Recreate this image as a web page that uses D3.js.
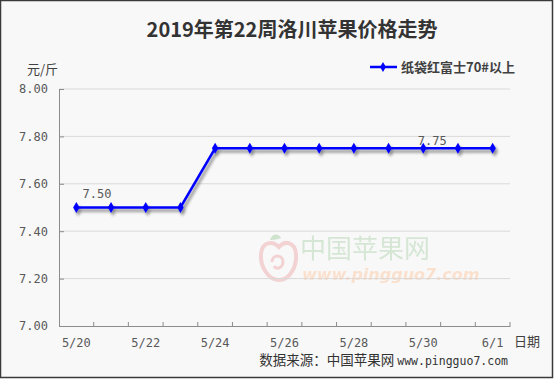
<!DOCTYPE html>
<html><head><meta charset="utf-8">
<script src="https://cdn.jsdelivr.net/npm/d3@7"></script>
<style>
html,body{margin:0;padding:0;background:#fff;}
svg{display:block;}
</style></head>
<body>
<svg id="chart" width="554" height="379"></svg>
<script>
const title = "2019年第22周洛川苹果价格走势";
const seriesName = "纸袋红富士70#以上";
const dates = ["5/20","5/21","5/22","5/23","5/24","5/25","5/26","5/27","5/28","5/29","5/30","5/31","6/1"];
const prices = [7.50,7.50,7.50,7.50,7.75,7.75,7.75,7.75,7.75,7.75,7.75,7.75,7.75];
const yTicks = [7.00,7.20,7.40,7.60,7.80,8.00];
const xLabels = ["5/20","5/22","5/24","5/26","5/28","5/30","6/1"];
const pointLabels = [{i:1, text:"7.50", dx:-14, dy:-10},{i:10, text:"7.75", dx:9, dy:-3}];

const svg = d3.select("#chart");
const W = 554, H = 379;
const m = {left:59, right:510, top:89, bottom:326};
const cjk = "'Noto Sans CJK SC','Noto Sans',sans-serif";
const mono = "'DejaVu Sans Mono','Liberation Mono',monospace";

svg.append("rect").attr("x",0.5).attr("y",0.5).attr("width",W-2).attr("height",H-2)
  .attr("fill","#f8f8f8").attr("stroke","#3a3a3a").attr("stroke-width",1.5);

const defs = svg.append("defs");
const f = defs.append("filter").attr("id","shadow").attr("x","-10%").attr("y","-50%").attr("width","130%").attr("height","250%");
f.append("feGaussianBlur").attr("in","SourceAlpha").attr("stdDeviation",1.5).attr("result","b");
f.append("feOffset").attr("in","b").attr("dx",2).attr("dy",3).attr("result","o");
f.append("feComponentTransfer").attr("in","o").attr("result","o2").append("feFuncA").attr("type","linear").attr("slope",0.45);
const fm = f.append("feMerge");
fm.append("feMergeNode").attr("in","o2");
fm.append("feMergeNode").attr("in","SourceGraphic");

const x = d3.scaleBand().domain(dates).range([m.left, m.right]);
const y = d3.scaleLinear().domain([7.0, 8.0]).range([m.bottom, m.top]);

// watermark
const wm = svg.append("g").attr("opacity",0.85);
wm.append("path").attr("d","M279,247 C272,240 262,242 261,254 C260,266 268,280 279,280 C290,280 297,266 296,254 C295,242 285,240 279,247 Z")
  .attr("fill","none").attr("stroke","#f2cccc").attr("stroke-width",4);
wm.append("path").attr("d","M272,262 C272,254 283,254 283,262 C283,268 276,270 274,266").attr("fill","none").attr("stroke","#f2cccc").attr("stroke-width",3);
wm.append("path").attr("d","M270,240 C272,233 279,233 281,238 C276,240 273,240 270,240 Z").attr("fill","#c8e0c8");
wm.append("text").attr("x",300).attr("y",258).attr("font-family",cjk).attr("font-size",26)
  .attr("fill","#cfe4cf").text("中国苹果网");
wm.append("text").attr("x",302).attr("y",280).attr("font-family","'DejaVu Sans',sans-serif").attr("font-size",16)
  .attr("font-style","italic").attr("font-weight","bold").attr("fill","#fbdcc6").text("www.pingguo7.com");

// gridlines
svg.append("g").selectAll("line").data(yTicks.filter(d=>d>7.0)).join("line")
  .attr("x1",m.left).attr("x2",m.right).attr("y1",d=>y(d)).attr("y2",d=>y(d))
  .attr("stroke","#d9d9d9").attr("stroke-width",1);

// y axis
const yAxis = svg.append("g").attr("transform",`translate(${m.left},0)`)
  .call(d3.axisLeft(y).tickValues(yTicks).tickFormat(d3.format(".2f")).tickSize(-5).tickPadding(11));
yAxis.select(".domain").attr("stroke","#8c8c8c");
yAxis.selectAll(".tick line").attr("stroke","#8c8c8c");
yAxis.selectAll("text").attr("font-family",mono).attr("font-size",12).attr("fill","#595959");

// x axis
const xAxis = svg.append("g").attr("transform",`translate(0,${m.bottom})`)
  .call(d3.axisBottom(x).tickSize(0).tickFormat(d=>xLabels.includes(d)?d:"").tickPadding(12));
xAxis.select(".domain").attr("stroke","#8c8c8c");
xAxis.selectAll("text").attr("font-family",mono).attr("font-size",12).attr("fill","#595959");
const bounds = dates.map(d=>x(d)+x.bandwidth());
svg.append("g").selectAll("line").data(bounds).join("line")
  .attr("x1",d=>d).attr("x2",d=>d).attr("y1",m.bottom-4).attr("y2",m.bottom)
  .attr("stroke","#8c8c8c");

// line
const cx = d=>x(d)+x.bandwidth()/2;
const data = dates.map((d,i)=>({d, v:prices[i]}));
const g = svg.append("g").attr("filter","url(#shadow)");
g.append("path").datum(data)
  .attr("d", d3.line().x(p=>cx(p.d)).y(p=>y(p.v)))
  .attr("fill","none").attr("stroke","#0000ff").attr("stroke-width",2.5);
g.selectAll("path.pt").data(data).join("path").attr("class","pt")
  .attr("transform",p=>`translate(${cx(p.d)},${y(p.v)})`)
  .attr("d", d3.symbol(d3.symbolDiamond, 36)).attr("fill","#0000ff");

// point labels
svg.append("g").selectAll("text").data(pointLabels).join("text")
  .attr("x",p=>cx(dates[p.i]) + p.dx).attr("y",p=>y(prices[p.i]) + p.dy)
  .attr("text-anchor","middle").attr("font-family",mono).attr("font-size",12).attr("fill","#595959")
  .text(p=>p.text);

// title
svg.append("text").attr("x",292).attr("y",37).attr("text-anchor","middle")
  .attr("font-family",cjk).attr("font-weight","bold").attr("font-size",20).attr("fill","#333")
  .text(title);

// unit
svg.append("text").attr("x",27).attr("y",74).attr("font-family",cjk).attr("font-size",13).attr("fill","#404040").text("元/斤");

// legend
const lg = svg.append("g");
lg.append("line").attr("x1",370).attr("x2",397).attr("y1",67).attr("y2",67).attr("stroke","#0000ff").attr("stroke-width",2.5);
lg.append("path").attr("transform","translate(383,67)").attr("d",d3.symbol(d3.symbolDiamond,30)).attr("fill","#0000ff");
lg.append("text").attr("x",401).attr("y",72).attr("font-family",cjk).attr("font-weight","bold").attr("font-size",13).attr("fill","#404040").text(seriesName);

// x title
svg.append("text").attr("x",514).attr("y",346).attr("font-family",cjk).attr("font-size",13).attr("fill","#404040").text("日期");

// source
svg.append("text").attr("x",508).attr("y",365).attr("text-anchor","end").attr("font-family",cjk).attr("font-size",13.5).attr("fill","#333")
  .text("数据来源：中国苹果网 ").append("tspan").attr("font-family",mono).attr("font-size",11.5).text("www.pingguo7.com");
</script>
</body></html>
